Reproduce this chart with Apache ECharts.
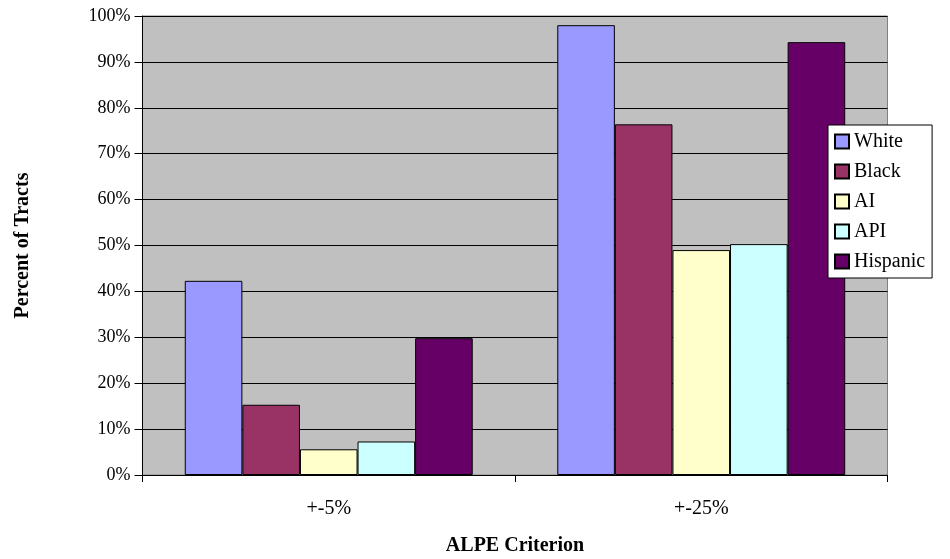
<!DOCTYPE html>
<html>
<head>
<meta charset="utf-8">
<script src="https://cdn.jsdelivr.net/npm/echarts@6/dist/echarts.min.js"></script>
<style>
    html, body {margin: 0; padding: 0; background: #ffffff;}
    #alpeChart {width: 950px; height: 559px;}
</style>
</head>
<body>
<div id="alpeChart"></div>
<script>
// values, percent of tracts
var categories = ['+-5%', '+-25%'];
var seriesNames = ['White', 'Black', 'AI', 'API', 'Hispanic'];
var whiteValues = [42.3, 98.0];
var blackValues = [15.3, 76.4];
var aiValues = [5.6, 49.0];
var apiValues = [7.3, 50.3];
var hispanicValues = [29.8, 94.3];
var barColors = ['#9999FF', '#993366', '#FFFFCC', '#CCFFFF', '#660066'];

var serifFont = '"Liberation Serif", "Times New Roman", serif';
var valueLists = [whiteValues, blackValues, aiValues, apiValues, hispanicValues];

var myChart = echarts.init(document.getElementById('alpeChart'));

var option = {
    backgroundColor: '#ffffff',
    animation: false,
    grid: {
        left: 142.5,
        right: 62.5,
        top: 16,
        bottom: 84,
        outerBoundsMode: 'none',
        containLabel: false,
        show: true,
        backgroundColor: '#C0C0C0',
        borderColor: '#808080',
        borderWidth: 1
    },
    legend: {
        orient: 'vertical',
        left: 828,
        top: 125,
        data: seriesNames,
        backgroundColor: '#ffffff',
        borderColor: '#000000',
        borderWidth: 1,
        borderRadius: 0,
        padding: [6, 7, 6, 6],
        itemWidth: 14,
        itemHeight: 14,
        itemGap: 9,
        icon: 'rect',
        textStyle: {
            fontFamily: serifFont,
            fontSize: 20,
            lineHeight: 21,
            color: '#000000'
        }
    },
    xAxis: {
        type: 'category',
        data: categories,
        name: 'ALPE Criterion',
        nameLocation: 'middle',
        nameGap: 61,
        nameTextStyle: {
            fontFamily: serifFont,
            fontSize: 20,
            fontWeight: 'bold',
            color: '#000000'
        },
        axisLine: {lineStyle: {color: '#000000', width: 1}},
        axisTick: {show: true, length: 7, lineStyle: {color: '#000000'}},
        axisLabel: {
            margin: 24,
            fontFamily: serifFont,
            fontSize: 20,
            color: '#000000'
        },
        splitLine: {show: false}
    },
    yAxis: {
        type: 'value',
        min: 0,
        max: 100,
        interval: 10,
        name: 'Percent of Tracts',
        nameLocation: 'middle',
        nameRotate: 90,
        nameGap: 110,
        nameTextStyle: {
            fontFamily: serifFont,
            fontSize: 20,
            fontWeight: 'bold',
            color: '#000000'
        },
        axisLine: {show: true, lineStyle: {color: '#000000', width: 1}},
        axisTick: {show: true, length: 8, lineStyle: {color: '#000000'}},
        axisLabel: {
            margin: 12,
            formatter: '{value}%',
            fontFamily: serifFont,
            fontSize: 18,
            color: '#000000'
        },
        splitLine: {show: true, lineStyle: {color: '#000000', width: 1}}
    },
    series: seriesNames.map(function (name, i) {
        return {
            name: name,
            type: 'bar',
            data: valueLists[i],
            barGap: '0%',
            barCategoryGap: '22.7%',
            itemStyle: {
                color: barColors[i],
                borderColor: '#000000',
                borderWidth: 1
            }
        };
    })
};

myChart.setOption(option, true);
</script>
</body>
</html>
